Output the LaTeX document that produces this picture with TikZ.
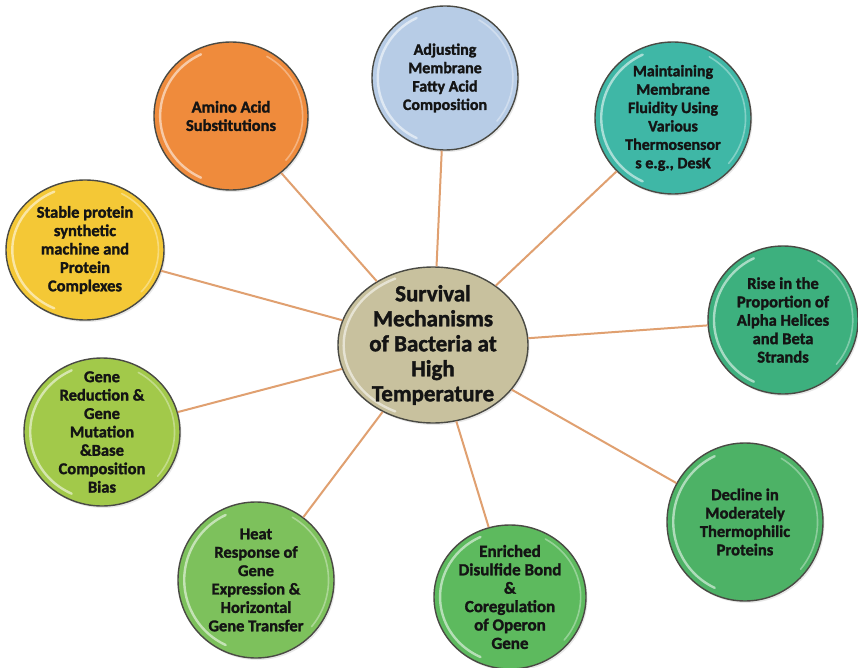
\documentclass[tikz,border=0pt]{standalone}
\usepackage{fontspec}
\setmainfont{Carlito}[BoldFeatures={FakeBold=1.6}]
\usetikzlibrary{shapes.geometric,shadows}
\definecolor{cCenter}{HTML}{C8C19E}
\definecolor{cAmino}{HTML}{EF8B3C}
\definecolor{cAdjust}{HTML}{B7CCE6}
\definecolor{cMaint}{HTML}{3FB7A6}
\definecolor{cStable}{HTML}{F4C836}
\definecolor{cRise}{HTML}{3DB07E}
\definecolor{cGene}{HTML}{A2C94A}
\definecolor{cDecline}{HTML}{4DB266}
\definecolor{cHeat}{HTML}{7DC15C}
\definecolor{cEnrich}{HTML}{5DBA5E}
\definecolor{cLine}{HTML}{E0A070}
\definecolor{cRim}{HTML}{4A4A44}
\definecolor{cText}{HTML}{141414}
\tikzset{
  ballshape/.style={ellipse, draw=cRim, line width=1.4pt, inner sep=0pt,
    drop shadow={opacity=0.18, shadow xshift=1.5pt, shadow yshift=-2pt}},
  balltext/.style={align=center, text=cText, font=\bfseries, inner sep=0pt},
  connector/.style={draw=cLine, line width=2pt},
  glint/.style={white, opacity=0.55, line width=2.4pt, line cap=round}
}
% name, x, y, rx, ry, colour, font size, text
\newcommand\mkball[8]{%
  \node[ballshape, fill=#6, minimum width=2*#4, minimum height=2*#5] (#1) at (#2,#3) {};
  \draw[glint] ([shift={(#2,#3)}]115:{0.92*#4} and {0.92*#5})
     arc[start angle=115, end angle=245, x radius={0.92*#4}, y radius={0.92*#5}];
  \draw[white, opacity=0.35, line width=1.6pt, line cap=round] ([shift={(#2,#3)}]-60:{0.93*#4} and {0.93*#5})
     arc[start angle=-60, end angle=40, x radius={0.93*#4}, y radius={0.93*#5}];
  \node[balltext, font=\fontsize{#7}{18.4}\selectfont\bfseries] (#1t) at (#1) {#8};
}
\begin{document}
\begin{tikzpicture}[x=1pt,y=-1pt]
\useasboundingbox[fill=white] (0,0) rectangle (858,668);

% centre
\node[ballshape, fill=cCenter, minimum width=190, minimum height=156] (c) at (433,345) {};
\draw[glint] ([shift={(433,345)}]115:{0.94*95} and {0.94*78})
   arc[start angle=115, end angle=245, x radius={0.94*95}, y radius={0.94*78}];

% outer balls
\mkball{amino}{231}{116}{77}{74}{cAmino}{16.5}{Amino Acid\\Substitutions}
\mkball{adjust}{445}{78}{73}{72}{cAdjust}{16}{Adjusting\\Membrane\\Fatty Acid\\Composition}
\mkball{maint}{673}{118}{78}{76}{cMaint}{16}{Maintaining\\Membrane\\Fluidity Using\\Various\\Thermosensor\\s e.g., DesK}
\mkball{stable}{85}{250}{79}{70}{cStable}{16.5}{Stable protein\\synthetic\\machine and\\Protein\\Complexes}
\mkball{rise}{783}{320}{75}{74}{cRise}{16.5}{Rise in the\\Proportion of\\Alpha Helices\\and Beta\\Strands}
\mkball{gene}{102}{432}{78}{74}{cGene}{16.5}{Gene\\Reduction \&\\Gene\\Mutation\\\&Base\\Composition\\Bias}
\mkball{decline}{745}{522}{78}{79}{cDecline}{16.5}{Decline in\\Moderately\\Thermophilic\\Proteins}
\mkball{heat}{256}{580}{78}{78}{cHeat}{16.5}{Heat\\Response of\\Gene\\Expression \&\\Horizontal\\Gene Transfer}
\mkball{enrich}{510}{597}{76}{72}{cEnrich}{17}{Enriched\\Disulfide Bond\\\&\\Coregulation\\of Operon\\Gene}

% connectors
\foreach \n in {amino,adjust,maint,stable,rise,gene,decline,heat,enrich}
  \draw[connector] (c) -- (\n);

\node[balltext, font=\fontsize{23}{25}\selectfont\bfseries] (ct) at (c) {Survival\\Mechanisms\\of Bacteria at\\High\\Temperature};
\end{tikzpicture}
\end{document}
